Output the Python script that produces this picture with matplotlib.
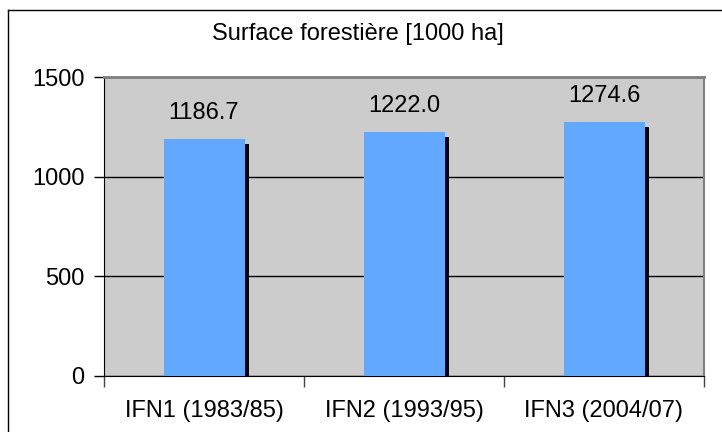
import matplotlib
matplotlib.use("Agg")
import matplotlib.pyplot as plt
import matplotlib.transforms as mtransforms
from matplotlib.lines import Line2D

plt.rcParams['font.family'] = ['Liberation Sans', 'DejaVu Sans']

categories = ["IFN1 (1983/85)", "IFN2 (1993/95)", "IFN3 (2004/07)"]
surface = [1186.7, 1222.0, 1274.6]
value_labels = ["1186.7", "1222.0", "1274.6"]
y_ticks = [0, 500, 1000, 1500]

fig = plt.figure(figsize=(7.22, 4.32), dpi=100)
ax = fig.add_axes([104 / 722, 1 - 376 / 432, 600 / 722, 299 / 432])
ax.set_facecolor("#cccccc")

x = list(range(len(categories)))
w = 0.405

# ombre noire décalée
shadow_tr = mtransforms.offset_copy(ax.transData, fig=fig, x=4, y=-5, units="dots")
ax.bar(x, surface, width=w, color="black", transform=shadow_tr, zorder=2)
ax.bar(x, surface, width=w, color="#62a8ff", zorder=3)

for xi, v, lab in zip(x, surface, value_labels):
    ax.annotate(lab, (xi, v), xytext=(0, 14.5), textcoords="offset points",
                ha="center", va="baseline", fontsize=17, color="black")

ax.set_xlim(-0.5, 2.5)
ax.set_ylim(0, 1500)
ax.set_yticks(y_ticks)
ax.set_xticks(x)
ax.set_xticklabels(categories)
ax.set_xticks([-0.5, 0.5, 1.5, 2.5], minor=True)

ax.tick_params(axis="y", direction="out", length=7, width=1, pad=7,
               labelsize=17, color="black")
ax.tick_params(axis="x", which="major", length=0, pad=17, labelsize=17)
ax.tick_params(axis="x", which="minor", direction="out", length=8, width=1,
               color="#444444")

ax.yaxis.grid(True, color="black", linewidth=1)
ax.set_axisbelow(True)

ax.spines["left"].set_color("black")
ax.spines["bottom"].set_color("black")
ax.spines["top"].set_color("#808080")
ax.spines["top"].set_linewidth(2)
ax.spines["right"].set_color("#808080")
ax.spines["right"].set_linewidth(1.5)

fig.text(358 / 722, 1 - 40 / 432, "Surface forestière [1000 ha]",
         ha="center", va="baseline", fontsize=17)

# cadre du graphique
fig.add_artist(Line2D([8 / 722, 8 / 722], [0, 1 - 10 / 432],
                      transform=fig.transFigure, color="black", linewidth=1))
fig.add_artist(Line2D([8 / 722, 1], [1 - 10 / 432, 1 - 10 / 432],
                      transform=fig.transFigure, color="black", linewidth=1))

fig.savefig("out.png", dpi=100)
